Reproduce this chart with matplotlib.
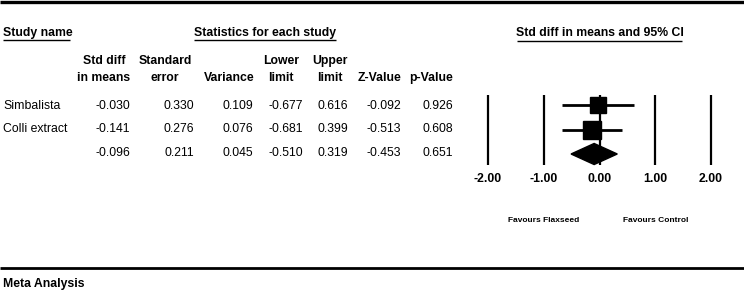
import numpy as np
import matplotlib
matplotlib.use("Agg")
import matplotlib.pyplot as plt
from matplotlib.lines import Line2D
from matplotlib.patches import Polygon

plt.rcParams['font.family'] = ['Liberation Sans', 'DejaVu Sans']

# data
studies = ["Simbalista", "Colli extract", ""]
smd = [-0.030, -0.141, -0.096]
se = [0.330, 0.276, 0.211]
var = [0.109, 0.076, 0.045]
lower = [-0.677, -0.681, -0.510]
upper = [0.616, 0.399, 0.319]
zval = [-0.092, -0.513, -0.453]
pval = [0.926, 0.608, 0.651]
ticks = [-2.0, -1.0, 0.0, 1.0, 2.0]
favours = ["Favours Flaxseed", "Favours Control"]

W, H = 744, 291
fig = plt.figure(figsize=(W / 100, H / 100), dpi=100)


def fx(x):
    return x / W


def fy(y):
    return 1 - y / H


def hline(x0, x1, y, lw):
    fig.add_artist(Line2D([fx(x0), fx(x1)], [fy(y), fy(y)], transform=fig.transFigure,
                          color="black", lw=lw, solid_capstyle="butt"))


# frame lines
hline(0, W, 1.5, 2.4)
hline(0, W, 268, 2.0)

# top headers
fs = 8.8
fig.text(fx(3), fy(33), "Study name", fontsize=fs, fontweight="bold", va="center")
hline(3, 70, 40.5, 1.0)
fig.text(fx(265), fy(33), "Statistics for each study", fontsize=fs, fontweight="bold",
         va="center", ha="center")
hline(194, 336, 40.5, 1.0)
fig.text(fx(600), fy(33), "Std diff in means and 95% CI", fontsize=fs, fontweight="bold",
         va="center", ha="center")
hline(517, 682, 41.5, 1.0)

# column headers
col_hdr = [("Std diff", "in means", 104), ("Standard", "error", 165), ("", "Variance", 229),
           ("Lower", "limit", 281), ("Upper", "limit", 330), ("", "Z-Value", 380),
           ("", "p-Value", 431)]
for top, bot, x in col_hdr:
    if top:
        fig.text(fx(x), fy(61), top, fontsize=fs, fontweight="bold", ha="center", va="center")
    fig.text(fx(x), fy(78), bot, fontsize=fs, fontweight="bold", ha="center", va="center")

# table rows
right_edges = [130, 194, 253, 303, 348, 401, 453]
row_y = [106, 129.5, 153.5]
for i, name in enumerate(studies):
    y = row_y[i]
    fig.text(fx(3), fy(y), name, fontsize=fs, va="center")
    vals = [smd[i], se[i], var[i], lower[i], upper[i], zval[i], pval[i]]
    for x, v in zip(right_edges, vals):
        fig.text(fx(x), fy(y), f"{v:.3f}", fontsize=fs, va="center", ha="right")

# forest plot axes
ppu = 55.8
x0 = 599.5
row0, rstep = 105, 24.5
top_px, bot_px = 88, 172
ax = fig.add_axes([fx(x0 - 2.5 * ppu), fy(bot_px), 5 * ppu / W, (bot_px - top_px) / H])
ax.set_xlim(-2.5, 2.5)
ax.set_ylim((bot_px - row0) / rstep, (top_px - row0) / rstep)
ax.axis("off")

ax.vlines(ticks, -0.41, 2.45, color="black", lw=1.6)

rows = np.arange(len(smd))
ax.hlines(rows[:2], lower[:2], upper[:2], color="black", lw=2.0)
w = 1 / np.array(var[:2])
for r, m, wi in zip(rows[:2], smd[:2], w):
    ax.plot(m, r, marker="s", ms=3.63 * np.sqrt(wi), color="black", mec="black")

h = 0.43
ax.add_patch(Polygon([(lower[2], 2), (smd[2], 2 - h), (upper[2], 2), (smd[2], 2 + h)],
                     closed=True, color="black"))

for t in ticks:
    ax.text(t, (179 - row0) / rstep, f"{t:.2f}", fontsize=fs, fontweight="bold",
            ha="center", va="center", clip_on=False)
ax.text(-1, (220 - row0) / rstep, favours[0], fontsize=6, fontweight="bold",
        ha="center", va="center", clip_on=False)
ax.text(1, (220 - row0) / rstep, favours[1], fontsize=6, fontweight="bold",
        ha="center", va="center", clip_on=False)

fig.text(fx(3), fy(284), "Meta Analysis", fontsize=fs, fontweight="bold", va="center")

fig.savefig("out.png", dpi=100)
